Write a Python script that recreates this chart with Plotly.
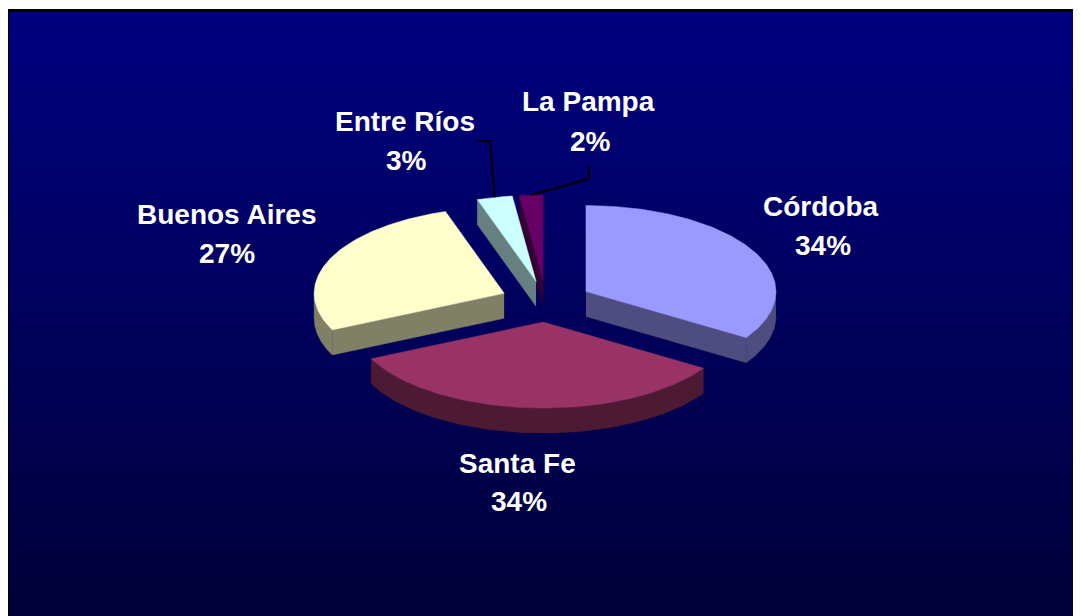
import numpy as np
import plotly.graph_objects as go

# ---- data ----
regions = ["Córdoba", "Santa Fe", "Buenos Aires", "Entre Ríos", "La Pampa"]
shares = [34, 34, 27, 3, 2]
pct_labels = ["34%", "34%", "27%", "3%", "2%"]
top_colors = ["#9999FF", "#993366", "#FFFFCC", "#CCFFFF", "#660066"]
side_colors = ["#4D4D80", "#4D1A33", "#808066", "#668080", "#330033"]

# ---- layout geometry (page pixels) ----
OX, OY = 8, 8              # body margin offset of the figure in the page
W, H = 1081, 616 - OY
CX, CY = 546, 301.5        # pie centre
RX, RY = 190, 86           # ellipse radii
DEPTH = 25
PULL = 0.24

def fx(x):
    return x - OX

def fy(y):
    return y - OY

total = float(sum(shares))
slices = []
start = 0.0
for i, v in enumerate(shares):
    a = start
    b = start + 360.0 * v / total
    start = b
    mid = np.radians((a + b) / 2)
    cx = CX + RX * PULL * np.sin(mid)
    cy = CY - RY * PULL * np.cos(mid)
    slices.append(dict(i=i, a=a, b=b, mid=mid, cx=cx, cy=cy))

def rim(s, deg, dz=0.0):
    t = np.radians(deg)
    return s["cx"] + RX * np.sin(t), s["cy"] - RY * np.cos(t) + dz

fig = go.Figure()

def poly(xs, ys, color):
    fig.add_trace(go.Scatter(
        x=[fx(x) for x in xs], y=[fy(y) for y in ys], mode="lines",
        fill="toself", fillcolor=color, line=dict(color=color, width=0.5),
        hoverinfo="skip", showlegend=False))

order = sorted(slices, key=lambda s: -np.cos(s["mid"]))
for s in order:
    i = s["i"]
    sc = side_colors[i]
    # radial faces
    for ang, sign in ((s["a"], -1), (s["b"], 1)):
        normal = np.radians(ang + sign * 90)
        if np.cos(normal) < 0:
            x1, y1 = rim(s, ang)
            poly([s["cx"], x1, x1, s["cx"]],
                 [s["cy"], y1, y1 + DEPTH, s["cy"] + DEPTH], sc)
    # outer curved side (front half)
    lo, hi = max(s["a"], 90.0), min(s["b"], 270.0)
    if hi > lo:
        th = np.linspace(lo, hi, 80)
        xt = [rim(s, t)[0] for t in th]
        yt = [rim(s, t)[1] for t in th]
        poly(xt + xt[::-1], yt + [y + DEPTH for y in yt[::-1]], sc)
    # top face
    th = np.linspace(s["a"], s["b"], 120)
    xt = [s["cx"]] + [rim(s, t)[0] for t in th] + [s["cx"]]
    yt = [s["cy"]] + [rim(s, t)[1] for t in th] + [s["cy"]]
    poly(xt, yt, top_colors[i])

# ---- labels (page pixel positions of label centres) ----
name_pos = [(821, 206), (517, 463), (226, 214), (405, 121), (588, 101)]
pct_pos = [(823, 245), (519, 501), (227, 253), (406, 160), (590, 141)]
font = dict(family="Liberation Sans, Arial, sans-serif", size=28, color="white")
annotations = []
for i in range(len(regions)):
    for txt, (x, y) in ((regions[i], name_pos[i]), (pct_labels[i], pct_pos[i])):
        annotations.append(dict(x=fx(x), y=fy(y), xref="x", yref="y",
                                text="<b>%s</b>" % txt, showarrow=False,
                                font=font, xanchor="center", yanchor="middle"))

# leader lines for the small slices
leader_start = {3: [(478, 141), (490, 141)], 4: [(589, 166), (589, 179)]}
for i, pts in leader_start.items():
    s = slices[i]
    ex, ey = rim(s, np.degrees(s["mid"]))
    xs = [p[0] for p in pts] + [ex]
    ys = [p[1] for p in pts] + [ey]
    fig.add_trace(go.Scatter(x=[fx(x) for x in xs], y=[fy(y) for y in ys],
                             mode="lines", line=dict(color="black", width=2),
                             hoverinfo="skip", showlegend=False))

# ---- background gradient + frame ----
shapes = []
n = 120
top_c, bot_c = np.array([0, 0, 128]), np.array([0, 0, 58])
for k in range(n):
    f = k / (n - 1)
    c = top_c + (bot_c - top_c) * f
    y0 = fy(10) + (H + OY - 10) * k / n
    y1 = fy(10) + (H + OY - 10) * (k + 1) / n + 1
    shapes.append(dict(type="rect", xref="x", yref="y", x0=fx(8), x1=W + 2,
                       y0=y0, y1=y1, line=dict(width=0), layer="below",
                       fillcolor="rgb(%d,%d,%d)" % tuple(c.astype(int))))
shapes.append(dict(type="line", xref="x", yref="y", x0=fx(7), x1=W + 2,
                   y0=fy(10.5), y1=fy(10.5), line=dict(color="black", width=3),
                   layer="below"))
shapes.append(dict(type="line", xref="x", yref="y", x0=fx(7.5), x1=fx(7.5),
                   y0=fy(9), y1=H + 2, line=dict(color="black", width=3),
                   layer="below"))

fig.update_layout(
    width=W, height=H, margin=dict(l=0, r=0, t=0, b=0),
    paper_bgcolor="white", plot_bgcolor="rgba(0,0,0,0)",
    xaxis=dict(range=[0, W], visible=False, fixedrange=True),
    yaxis=dict(range=[H, 0], visible=False, fixedrange=True),
    shapes=shapes, annotations=annotations,
)

fig.write_html("out.html")
